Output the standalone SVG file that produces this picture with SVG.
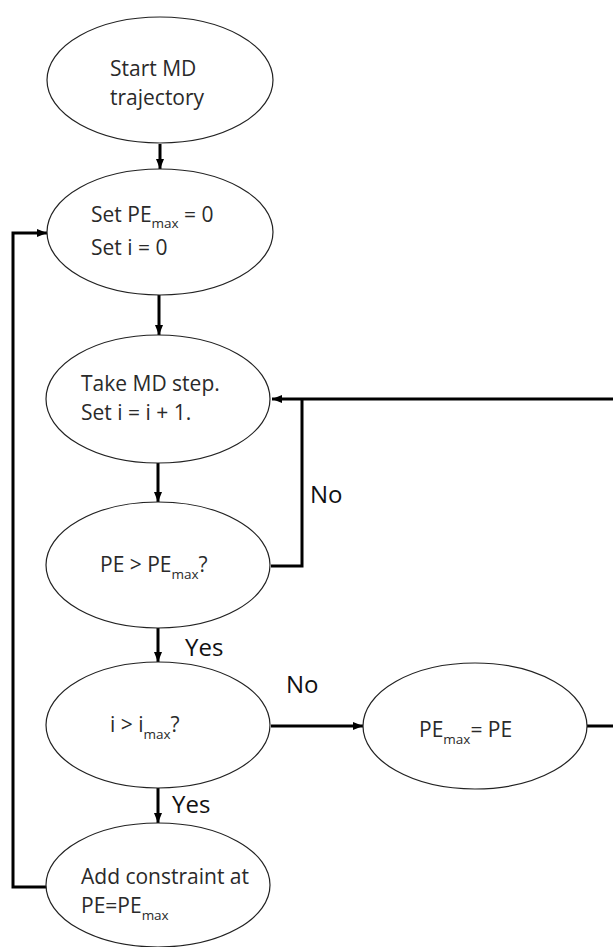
<svg xmlns="http://www.w3.org/2000/svg" width="613" height="947" viewBox="0 0 613 947">
<style>
.node ellipse{fill:#fff;stroke:#222;stroke-width:1.2}
.t{font-family:"Open Sans","Liberation Sans",sans-serif;font-size:21px;fill:#2a2a2a}
.sub{font-size:13.5px}
.lbl{font-family:"Open Sans","Liberation Sans",sans-serif;font-size:24px;fill:#111}
.conn path{fill:none;stroke:#000;stroke-width:3}
</style>
<defs>
<marker id="ah" viewBox="0 0 10 8" refX="10" refY="4" markerWidth="10" markerHeight="8" markerUnits="userSpaceOnUse" orient="auto">
<path d="M0,0 L10,4 L0,8 z" fill="#000"/>
</marker>
</defs>
<rect width="613" height="947" fill="#fff"/>
<g class="conn">
<path d="M160,144 V169" marker-end="url(#ah)"/>
<path d="M159,295 V335" marker-end="url(#ah)"/>
<path d="M158,463 V502" marker-end="url(#ah)"/>
<path d="M613,399 H272" marker-end="url(#ah)"/>
<path d="M271,566 H302 V399"/>
<path d="M158,628 V662" marker-end="url(#ah)"/>
<path d="M271,726 H363" marker-end="url(#ah)"/>
<path d="M587,726 H613"/>
<path d="M158,787 V823" marker-end="url(#ah)"/>
<path d="M47,887 H13 V233 H47" marker-end="url(#ah)"/>
<text class="lbl" x="310" y="503">No</text>
<text class="lbl" x="185" y="656">Yes</text>
<text class="lbl" x="286" y="693">No</text>
<text class="lbl" x="172" y="813">Yes</text>
</g>
<g id="start" class="node">
<ellipse cx="160" cy="80" rx="113" ry="63"/>
<text class="t" x="110" y="76">Start MD</text>
<text class="t" x="110" y="105">trajectory</text>
</g>
<g id="init" class="node">
<ellipse cx="160" cy="232" rx="113" ry="63"/>
<text class="t" x="91" y="222">Set PE<tspan class="sub" dy="6">max</tspan><tspan dy="-6"> = 0</tspan></text>
<text class="t" x="91" y="255">Set i = 0</text>
</g>
<g id="step" class="node">
<ellipse cx="158" cy="399" rx="112" ry="64"/>
<text class="t" x="81" y="391">Take MD step.</text>
<text class="t" x="81" y="420">Set i = i + 1.</text>
</g>
<g id="check-pe" class="node">
<ellipse cx="158" cy="565" rx="112" ry="63"/>
<text class="t" x="100" y="572">PE &gt; PE<tspan class="sub" dy="7">max</tspan><tspan dy="-7">?</tspan></text>
</g>
<g id="check-i" class="node">
<ellipse cx="158" cy="725" rx="112" ry="63"/>
<text class="t" x="110" y="732">i &gt; i<tspan class="sub" dy="7">max</tspan><tspan dy="-7">?</tspan></text>
</g>
<g id="update" class="node">
<ellipse cx="475" cy="726" rx="112" ry="63"/>
<text class="t" x="419" y="737">PE<tspan class="sub" dy="7">max</tspan><tspan dy="-7">= PE</tspan></text>
</g>
<g id="constraint" class="node">
<ellipse cx="158" cy="885" rx="112" ry="62"/>
<text class="t" x="81" y="884">Add constraint at</text>
<text class="t" x="81" y="913">PE=PE<tspan class="sub" dy="7">max</tspan></text>
</g>
</svg>
